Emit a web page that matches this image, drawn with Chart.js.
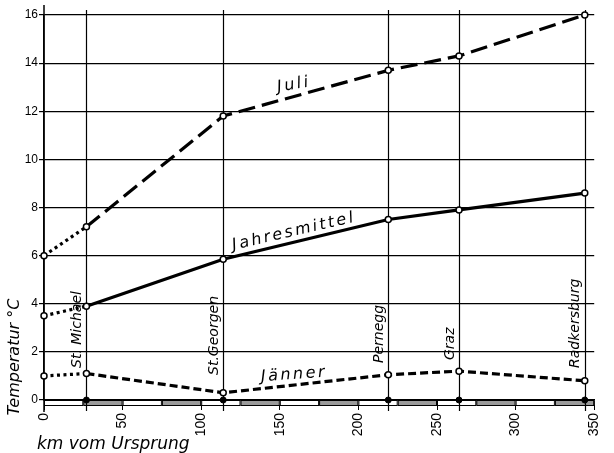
<!DOCTYPE html>
<html>
<head>
<meta charset="utf-8">
<script src="https://cdn.jsdelivr.net/npm/chart.js@4"></script>
<style>
html,body{margin:0;padding:0;background:#fff;}
#c{display:block;}
</style>
</head>
<body>
<canvas id="c" width="614" height="453"></canvas>
<script>
// ---- data ----
const stationNames = ['St. Michael', 'St.Georgen', 'Pernegg', 'Graz', 'Radkersburg'];
const stationKm = [27, 114, 219, 264, 344];
const km = [0, 27, 114, 219, 264, 344];
const juli = [6.0, 7.2, 11.8, 13.7, 14.3, 16.0];
const jahresmittel = [3.5, 3.9, 5.85, 7.5, 7.9, 8.6];
const jaenner = [1.0, 1.1, 0.3, 1.05, 1.2, 0.8];
const seriesNames = ['Juli', 'Jahresmittel', 'Jänner'];
const xTicks = [0, 50, 100, 150, 200, 250, 300, 350];
const yTicks = [0, 2, 4, 6, 8, 10, 12, 14, 16];
const stripKm = [0, 25, 50, 75, 100, 125, 150, 175, 200, 225, 250, 275, 300, 325, 350];

// ---- label placement (data coords) ----
const stationLabelY = [1.33, 1.04, 1.54, 1.66, 1.33];
const seriesLabelPos = [
  {x: 159, y: 13.1, a: -10},
  {x: 159, y: 7.0, a: -13},
  {x: 159, y: 1.05, a: -4}
];

const pts = (ys) => km.map((x, i) => ({x: x, y: ys[i]}));
const DOT = [3, 3.5];
const mkSeries = (ys, dash) => ({
  data: pts(ys),
  borderColor: '#000',
  borderWidth: 3.2,
  borderCapStyle: 'butt',
  tension: 0,
  fill: false,
  clip: false,
  pointRadius: 3,
  pointBackgroundColor: '#fff',
  pointBorderColor: '#000',
  pointBorderWidth: 1.5,
  segment: {
    borderDash: ctx => ctx.p0.parsed.x === 0 ? DOT : dash
  }
});

const deco = {
  id: 'deco',
  beforeDatasetsDraw(chart) {
    const {ctx, scales: {x, y}, chartArea: ca} = chart;
    ctx.save();
    // strip below axis
    const y0 = y.getPixelForValue(0);
    ctx.strokeStyle = '#000';
    ctx.lineWidth = 1;
    for (let i = 0; i < stripKm.length - 1; i++) {
      const a = x.getPixelForValue(stripKm[i]);
      const b = x.getPixelForValue(stripKm[i + 1]);
      ctx.fillStyle = (i % 2 === 1) ? '#9a9a9a' : '#fff';
      ctx.fillRect(a, y0 + 1, b - a, 4);
      ctx.strokeRect(a + 0.5, y0 + 0.5, b - a - 1, 5);
    }
    // station verticals
    ctx.lineWidth = 1.2;
    stationKm.forEach(k => {
      const px = Math.round(x.getPixelForValue(k)) + 0.5;
      ctx.beginPath();
      ctx.moveTo(px, ca.top - 5);
      ctx.lineTo(px, ca.bottom + 11);
      ctx.stroke();
    });
    // y-axis extension
    ctx.lineWidth = 1.5;
    ctx.beginPath();
    ctx.moveTo(ca.left, ca.top - 10);
    ctx.lineTo(ca.left, ca.bottom + 12);
    ctx.stroke();
    ctx.restore();
  },
  afterDatasetsDraw(chart) {
    const {ctx, scales: {x, y}, chartArea: ca} = chart;
    ctx.save();
    ctx.fillStyle = '#000';
    // station names
    ctx.font = 'italic 14px "DejaVu Sans"';
    ctx.textAlign = 'left';
    ctx.textBaseline = 'middle';
    stationNames.forEach((n, i) => {
      ctx.save();
      ctx.translate(x.getPixelForValue(stationKm[i]) - 9, y.getPixelForValue(stationLabelY[i]));
      ctx.rotate(-Math.PI / 2);
      ctx.fillText(n, 0, 0);
      ctx.restore();
    });
    // series names
    ctx.font = 'italic 16px "DejaVu Sans"';
    ctx.textAlign = 'center';
    ctx.letterSpacing = '2.5px';
    seriesNames.forEach((n, i) => {
      const p = seriesLabelPos[i];
      ctx.save();
      ctx.translate(x.getPixelForValue(p.x), y.getPixelForValue(p.y));
      ctx.rotate(p.a * Math.PI / 180);
      ctx.fillText(n, 0, 0);
      ctx.restore();
    });
    ctx.letterSpacing = '0px';
    // axis titles
    ctx.font = 'italic 16px "DejaVu Sans"';
    ctx.save();
    ctx.translate(15, 357);
    ctx.rotate(-Math.PI / 2);
    ctx.textAlign = 'center';
    ctx.fillText('Temperatur °C', 0, 0);
    ctx.restore();
    ctx.font = 'italic 17px "DejaVu Sans"';
    ctx.textAlign = 'left';
    ctx.textBaseline = 'alphabetic';
    ctx.fillText('km vom Ursprung', 37, 449);
    ctx.restore();
  }
};

new Chart(document.getElementById('c'), {
  type: 'line',
  data: {
    datasets: [
      mkSeries(juli, [17, 7]),
      mkSeries(jahresmittel, []),
      mkSeries(jaenner, [8, 4]),
      {
        data: stationKm.map(k => ({x: k, y: 0})),
        showLine: false,
        clip: false,
        pointRadius: 3,
        pointBackgroundColor: '#000',
        pointBorderColor: '#000',
        pointBorderWidth: 1
      }
    ]
  },
  options: {
    responsive: false,
    animation: false,
    devicePixelRatio: 1,
    layout: {padding: {top: 15, right: 10, left: 0, bottom: 0}},
    plugins: {legend: {display: false}, tooltip: {enabled: false}},
    scales: {
      x: {
        type: 'linear',
        min: 0, max: 350,
        afterBuildTicks: s => { s.ticks = xTicks.map(v => ({value: v})); },
        afterFit: s => { s.height = 53; },
        ticks: {
          minRotation: 90, maxRotation: 90,
          padding: 3,
          color: '#000',
          font: {family: '"Liberation Sans"', size: 14}
        },
        grid: {drawOnChartArea: false, drawTicks: true, tickLength: 10, color: '#000', lineWidth: 1},
        border: {display: true, color: '#000', width: 1.5}
      },
      y: {
        min: 0, max: 16,
        afterBuildTicks: s => { s.ticks = yTicks.map(v => ({value: v})); },
        afterFit: s => { s.width = 44; },
        ticks: {
          padding: 1,
          color: '#000',
          font: {family: '"Liberation Sans"', size: 12}
        },
        grid: {color: '#000', lineWidth: 1.2, tickLength: 5},
        border: {display: true, color: '#000', width: 1.5}
      }
    }
  },
  plugins: [deco]
});
</script>
</body>
</html>
